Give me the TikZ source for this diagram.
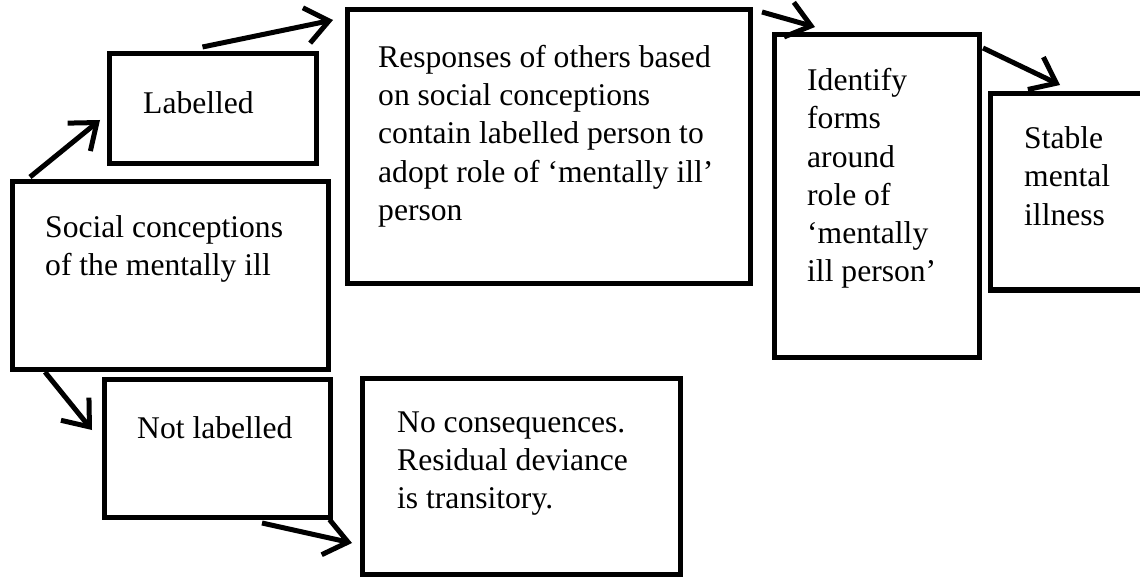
\documentclass[tikz,border=0pt]{standalone}
\usepackage{fontspec}
\setmainfont{Liberation Serif}
\usetikzlibrary{arrows.meta,fit}

\begin{document}
\begin{tikzpicture}[x=1pt,y=-1pt,
    box/.style={draw,line width=5pt,inner sep=0pt,outer sep=0pt},
    txt/.style={anchor=north west,inner sep=0pt,align=left,
      font=\fontsize{31.6}{38.3}\selectfont,execute at begin node=\strut},
    arr/.style={line width=5pt,-{Straight Barb[length=23pt,width=36pt]}}]
      \useasboundingbox (0,0) rectangle (1140,577);%

      \node[box,fit={(12,182) (328,369)}] (soc) {};%
      \node[box,fit={(109,54) (316,164)}] (lab) {};%
      \node[box,fit={(347,10) (750,284)}] (resp) {};%
      \node[box,fit={(774,35) (979,357)}] (iden) {};%
      \node[box,fit={(990,94) (1150,290)}] (stab) {};%
      \node[box,fit={(104,379) (330,517)}] (notl) {};%
      \node[box,fit={(362,378) (680,574)}] (nocon) {};%

      \node[txt] (soc-t) at (45,214.9) {Social conceptions\\of the mentally ill};%
      \node[txt] (lab-t) at (143,86.5) {Labelled};%
      \node[txt] (resp-t) at (378,44.9) {Responses of others based\\on social conceptions\\contain labelled person to\\adopt role of ‘mentally ill’\\person};%
      \node[txt] (iden-t) at (807,68) {Identify\\forms\\around\\role of\\‘mentally\\ill person’};%
      \node[txt] (stab-t) at (1024,126.5) {Stable\\mental\\illness};%
      \node[txt] (notl-t) at (137,411.5) {Not labelled};%
      \node[txt] (nocon-t) at (397,411.5) {No consequences.\\Residual deviance\\is transitory.};%

      \draw[arr] ([shift={(18,-5)}]soc.north west) -- ([shift={(-9,11)}]lab.west);%
      \draw[arr] ([shift={(-10,-7)}]lab.north) -- ([shift={(-14,10)}]resp.north west);%
      \draw[arr] ([shift={(12,2)}]resp.north east) -- ([shift={(41,-8)}]iden.north west);%
      \draw[arr] ([shift={(4,13)}]iden.north east) -- ([shift={(70,-9)}]stab.north west);%
      \draw[arr] ([shift={(33,3)}]soc.south west) -- ([shift={(-12,-18)}]notl.west);%
      \draw[arr] ([shift={(45,6)}]notl.south) -- ([shift={(-10,-31)}]nocon.south west);%
    \end{tikzpicture}
\end{document}
